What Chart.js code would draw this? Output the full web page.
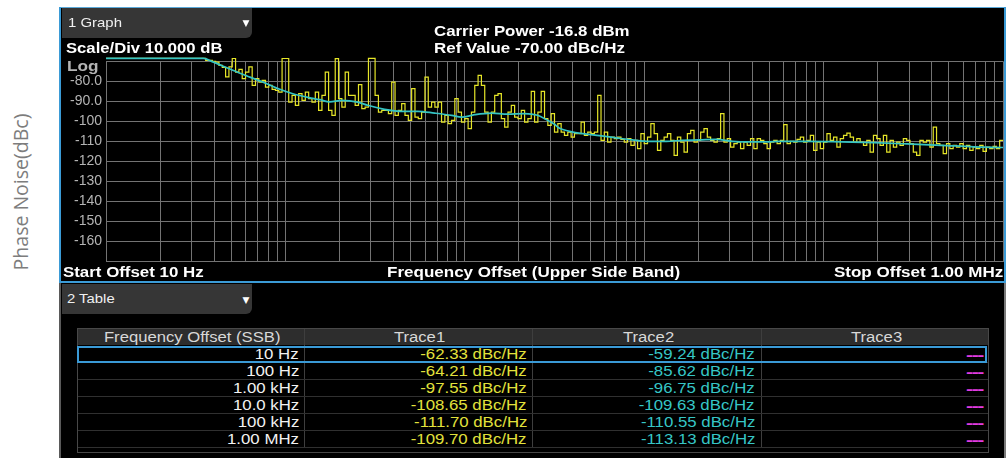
<!DOCTYPE html>
<html>
<head>
<meta charset="utf-8">
<script src="https://cdn.jsdelivr.net/npm/chart.js@4.4.1/dist/chart.umd.min.js"></script>
<style>
html,body{margin:0;padding:0;background:#fff;}
#root{position:relative;width:1007px;height:458px;overflow:hidden;background:#fff;font-family:"Liberation Sans",Arial,sans-serif;}
.abs{position:absolute;}
.t{position:absolute;white-space:nowrap;line-height:16px;height:16px;}
</style>
</head>
<body>
<div id="root">
  <!-- graph panel -->
  <div class="abs" style="left:59px;top:7px;width:947px;height:276px;background:#000;"></div>
  <div class="abs" style="left:59px;top:7px;width:947px;height:1px;background:#5aa9d9;"></div>
  <div class="abs" style="left:59px;top:7px;width:2px;height:276px;background:#3b9bd6;"></div>
  <div class="abs" style="left:1004px;top:7px;width:2px;height:276px;background:#3b9bd6;"></div>
  <div class="abs" style="left:59px;top:281px;width:947px;height:2px;background:#3b9bd6;"></div>
  <div class="abs" style="left:62px;top:8px;width:190px;height:30px;background:#363636;border-bottom-right-radius:6px;"></div>
  <canvas id="c" class="abs" style="left:61px;top:8px;width:943px;height:273px;" width="943" height="273"></canvas>

  <!-- table panel -->
  <div class="abs" style="left:59px;top:283px;width:947px;height:175px;background:#000;"></div>
  <div class="abs" style="left:59px;top:283px;width:2px;height:175px;background:#5a5a5a;"></div>
  <div class="abs" style="left:1004px;top:283px;width:2px;height:175px;background:#7a7a7a;"></div>
  <div class="abs" style="left:62px;top:284px;width:190px;height:30px;background:#363636;border-bottom-right-radius:6px;"></div>
  <div class="abs" style="left:77px;top:328px;width:912px;height:125px;border:1px solid #484848;box-sizing:border-box;"></div>
  <div class="abs" style="left:78px;top:329px;width:910px;height:16px;background:#2d2d2d;"></div>
</div>
<script>
// ---------------- data ----------------
const sweepStartHz = 10;
const sweepPointsPerDecade = 54;
const xGridTicks = [10,20,30,40,50,60,70,80,90,
  100,200,300,400,500,600,700,800,900,
  1000,2000,3000,4000,5000,6000,7000,8000,9000,
  10000,20000,30000,40000,50000,60000,70000,80000,90000,
  100000,200000,300000,400000,500000,600000,700000,800000,900000,1000000];

// Trace1 (yellow), one reading per sweep bucket, dBc/Hz as displayed
const trace1Db = [
  -68.5,-68.5,-68.5,-68.5,-68.5,-68.5,-68.5,-68.5,-68.5,-68.5,
  -68.5,-68.5,-68.5,-68.5,-68.5,-68.5,-68.5,-68.5,-68.5,-68.5,
  -68.5,-68.5,-68.5,-68.5,-68.5,-68.5,-68.5,-68.5,-68.5,-68.5,
  -69.5,-69.5,-70,-70.4,-72,-73,-77.8,-72.8,-68.6,-75.4,
  -74,-78.7,-75.4,-72.8,-82,-78.7,-80.4,-79.5,-82.9,-82,
  -84,-84.5,-85.4,-68.6,-68.6,-90.4,-87,-92,-86.2,-89.5,
  -85.4,-88.7,-90.4,-85.4,-94.5,-87,-75.4,-94.5,-97,-68.7,
  -88.7,-92.9,-75.4,-87,-87,-92,-81.7,-93.7,-92.9,-68.5,
  -68.5,-87,-95.4,-94.5,-94.5,-96.2,-80.4,-97,-94.5,-91.2,
  -97,-99.5,-83.7,-97.9,-98.7,-95.4,-77.9,-92.9,-90.4,-92.9,
  -90.4,-100.4,-97,-101.2,-99.5,-88.7,-95.4,-100.4,-98.7,-103.7,
  -95.4,-82,-77,-82,-95.4,-100.4,-95.4,-87,-86.2,-98.7,
  -102.9,-95.4,-92,-97.9,-98.7,-94.5,-100.4,-98.7,-85,-100.4,
  -95.4,-85,-98.7,-102,-96.2,-105.4,-101.2,-105.4,-107,-105.4,
  -107.9,-106.2,-106.2,-100.4,-107,-105.4,-106.2,-105.4,-87,-109.5,
  -105.4,-110.4,-107.9,-108.7,-107.9,-109,-110.4,-108.7,-112,-109.5,
  -113.7,-106.2,-111.2,-107.9,-101.2,-106.2,-114.5,-109.5,-107.9,-106.2,
  -109.5,-117,-107.9,-110.4,-115.4,-106.2,-104.5,-110.4,-109.5,-105.4,
  -103.7,-107.9,-109.5,-110.4,-108.7,-96.2,-110.4,-108.7,-112.9,-111.2,
  -110.4,-113.7,-110.4,-112,-108.7,-113.7,-108.7,-109.5,-111.2,-113.7,
  -110.4,-109.5,-111.2,-109.5,-101.7,-111.2,-110,-110.4,-109,-107.9,
  -110.4,-109.5,-107,-114.5,-110.4,-113.7,-110.4,-106.2,-109.5,-107.9,
  -112.9,-108.7,-107,-105.9,-107.9,-110.4,-108.7,-110.4,-112,-109.5,
  -115.4,-107,-108.7,-112,-107,-115.4,-109.5,-112.9,-110.4,-112,
  -108.7,-109.5,-111.2,-115.4,-117,-109.5,-110.4,-109.5,-112.9,-102.9,
  -111.2,-112,-116.2,-111.2,-113.7,-112,-112.9,-111.2,-113.7,-112,
  -114.5,-112.9,-113.7,-112,-115,-112.9,-113.7,-112.5,-113.7,-109.5,
  -109.5
];

// Trace2 (cyan, smoothed)
const trace2Freq = [10,35,39.4,50.9,63.4,78.8,93,110,131.6,155.5,
  176.6,206,253,287.5,357,444.6,546,679,845,960,
  1135,1410,1730,2153,2542,2890,3162,3373,3837,4530,
  5636,7000,8590,10690,13300,16330,20280,25220,30970,38550,
  47900,56600,81100,125300,191400,291900,451600,689800,1000000];
const trace2Db = [-68.5,-68.5,-70.3,-74.5,-77.9,-81.2,-84,-86.2,-87.9,-89.2,
  -90.3,-89.5,-90.4,-92,-94,-95,-95,-95.9,-97,-97.9,
  -96.7,-95.9,-96.4,-96.2,-97,-99.5,-101.5,-103.5,-105,-106.2,
  -107.2,-108.3,-109.3,-110,-110,-109.5,-109.3,-109,-110,-110.3,
  -110.3,-110,-110,-110.3,-110.7,-111.3,-112,-112.8,-113.1];

// Table
const tableHeaders = ["Frequency Offset (SSB)", "Trace1", "Trace2", "Trace3"];
const tableOffsets = ["10 Hz", "100 Hz", "1.00 kHz", "10.0 kHz", "100 kHz", "1.00 MHz"];
const tableTrace1 = ["-62.33 dBc/Hz", "-64.21 dBc/Hz", "-97.55 dBc/Hz", "-108.65 dBc/Hz", "-111.70 dBc/Hz", "-109.70 dBc/Hz"];
const tableTrace2 = ["-59.24 dBc/Hz", "-85.62 dBc/Hz", "-96.75 dBc/Hz", "-109.63 dBc/Hz", "-110.55 dBc/Hz", "-113.13 dBc/Hz"];
const tableTrace3 = ["---", "---", "---", "---", "---", "---"];

// ---------------- text helpers ----------------
const root = document.getElementById('root');
function txt(str, x, y, o) {
  const s = document.createElement('span');
  s.className = 't';
  s.textContent = str;
  s.style.font = o.font || '14px "Liberation Sans", Arial, sans-serif';
  s.style.lineHeight = '16px';
  s.style.color = o.color || '#fff';
  if (o.ls) s.style.letterSpacing = o.ls;
  root.appendChild(s);
  const w = s.offsetWidth;
  const k = o.w ? o.w / w : (o.k || 1);
  s.style.top = (y - 8) + 'px';
  if (o.align === 'right') { s.style.left = (x - w) + 'px'; s.style.transformOrigin = 'right center'; }
  else if (o.align === 'center') { s.style.left = (x - w / 2) + 'px'; s.style.transformOrigin = 'center center'; }
  else { s.style.left = x + 'px'; s.style.transformOrigin = 'left center'; }
  s.style.transform = 'scaleX(' + k + ')';
  return s;
}
function box(l, t, w, h, bg, extra) {
  const d = document.createElement('div');
  d.className = 'abs';
  d.style.cssText += 'left:' + l + 'px;top:' + t + 'px;width:' + w + 'px;height:' + h + 'px;background:' + bg + ';' + (extra || '');
  root.appendChild(d);
  return d;
}

const B = 'bold 14px "Liberation Sans", Arial, sans-serif';
const R = '14px "Liberation Sans", Arial, sans-serif';
const R13 = '13px "Liberation Sans", Arial, sans-serif';
const TRI = '9px "DejaVu Sans", sans-serif';

// graph panel texts
txt('1 Graph', 68, 23, {font: R13, color: '#f0f0f0', w: 54});
txt('\u25BC', 246, 23, {font: TRI, color: '#fff', align: 'center'});
txt('Scale/Div 10.000 dB', 66, 48, {font: B, w: 157});
txt('Log', 67, 65.5, {font: B, color: '#b4b4b4', w: 32});
txt('Carrier Power -16.8 dBm', 434, 31, {font: B, w: 196});
txt('Ref Value -70.00 dBc/Hz', 434, 48, {font: B, w: 191});
txt('Start Offset 10 Hz', 63, 272, {font: B, w: 141});
txt('Frequency Offset (Upper Side Band)', 387, 272, {font: B, w: 293});
txt('Stop Offset 1.00 MHz', 1003, 272, {font: B, w: 169, align: 'right'});

// rotated axis label
(function(){
  const s = document.createElement('span');
  s.textContent = 'Phase Noise(dBc)';
  s.style.cssText = 'position:absolute;white-space:nowrap;font:19.5px "Open Sans",sans-serif;color:#7d7d7d;line-height:24px;';
  root.appendChild(s);
  const w = s.offsetWidth;
  s.style.left = (21 - w / 2) + 'px';
  s.style.top = (192 - 12) + 'px';
  s.style.transform = 'rotate(-90deg)';
  s.style.transformOrigin = 'center center';
})();

// table panel
txt('2 Table', 67, 299, {font: R13, color: '#f0f0f0', w: 48});
txt('\u25BC', 246, 299.5, {font: TRI, color: '#fff', align: 'center'});
const colSep = [304, 532, 761];
colSep.forEach(x => box(x, 329, 1, 118, '#3e3e3e'));
const rowLines = [362, 379, 396, 413, 430, 447];
rowLines.forEach(y => box(78, y, 910, 1, '#303030'));
box(77, 346, 910, 17, 'transparent', 'border:2px solid #3a9ad6;box-sizing:border-box;');

const headerCenters = [192, 419, 648, 876];
tableHeaders.forEach((h, i) => txt(h, headerCenters[i], 336.5, {font: R, color: '#d8d8d8', k: 1.19, align: 'center'}));
const rowY = [354, 371, 388, 405, 422, 439];
const colRight = [299, 527, 755, 983];
const colColor = ['#f2f2f2', '#e2e23c', '#36c6c6', '#e23ce2'];
const cols = [tableOffsets, tableTrace1, tableTrace2, tableTrace3];
cols.forEach((arr, c) => arr.forEach((v, r) => {
  if (c === 3) txt(v, colRight[c], rowY[r] + 1, {font: 'bold 15px "Liberation Sans", Arial, sans-serif', color: colColor[c], w: 17, align: 'right', ls: '-1px'});
  else txt(v, colRight[c], rowY[r], {font: R, color: colColor[c], k: 1.2, align: 'right'});
}));

// ---------------- chart ----------------
const sweepFreq = trace1Db.map((_, i) => sweepStartHz * Math.pow(10, i / sweepPointsPerDecade));
const clipTop = {left: 0, top: 5, right: 1, bottom: 1};
const gridColor = '#737373';

new Chart(document.getElementById('c'), {
  type: 'line',
  data: {
    datasets: [
      {
        label: 'Trace2',
        data: trace2Freq.map((f, i) => ({x: f, y: trace2Db[i]})),
        borderColor: '#35c4c4',
        borderWidth: 1.7,
        pointRadius: 0,
        cubicInterpolationMode: 'monotone',
        order: 0,
        clip: clipTop
      },
      {
        label: 'Trace1',
        data: sweepFreq.map((f, i) => ({x: f, y: trace1Db[i]})),
        borderColor: '#e6e628',
        borderWidth: 1.2,
        pointRadius: 0,
        stepped: true,
        order: 1,
        clip: clipTop
      }
    ]
  },
  options: {
    responsive: false,
    maintainAspectRatio: false,
    animation: false,
    events: [],
    layout: {padding: {left: 0, right: 1, top: 53.3, bottom: 19.7}},
    plugins: {legend: {display: false}, tooltip: {enabled: false}, title: {display: false}},
    scales: {
      x: {
        type: 'logarithmic',
        min: 10,
        max: 1000000,
        afterBuildTicks: s => { s.ticks = xGridTicks.map(v => ({value: v})); },
        afterFit: s => { s.height = 0; },
        ticks: {display: false},
        grid: {color: gridColor, lineWidth: 1, drawTicks: false},
        border: {display: true, color: gridColor}
      },
      y: {
        min: -170,
        max: -70,
        afterFit: s => { s.width = 45; },
        ticks: {
          stepSize: 10,
          padding: 4,
          color: '#b4b4b4',
          font: {family: '"Liberation Sans", Arial, sans-serif', size: 14},
          callback: v => (v === -70 || v === -170) ? '' : (v > -100 ? v.toFixed(1) : String(v))
        },
        grid: {color: gridColor, lineWidth: 1, drawTicks: false},
        border: {display: true, color: gridColor}
      }
    }
  }
});
</script>
</body>
</html>
